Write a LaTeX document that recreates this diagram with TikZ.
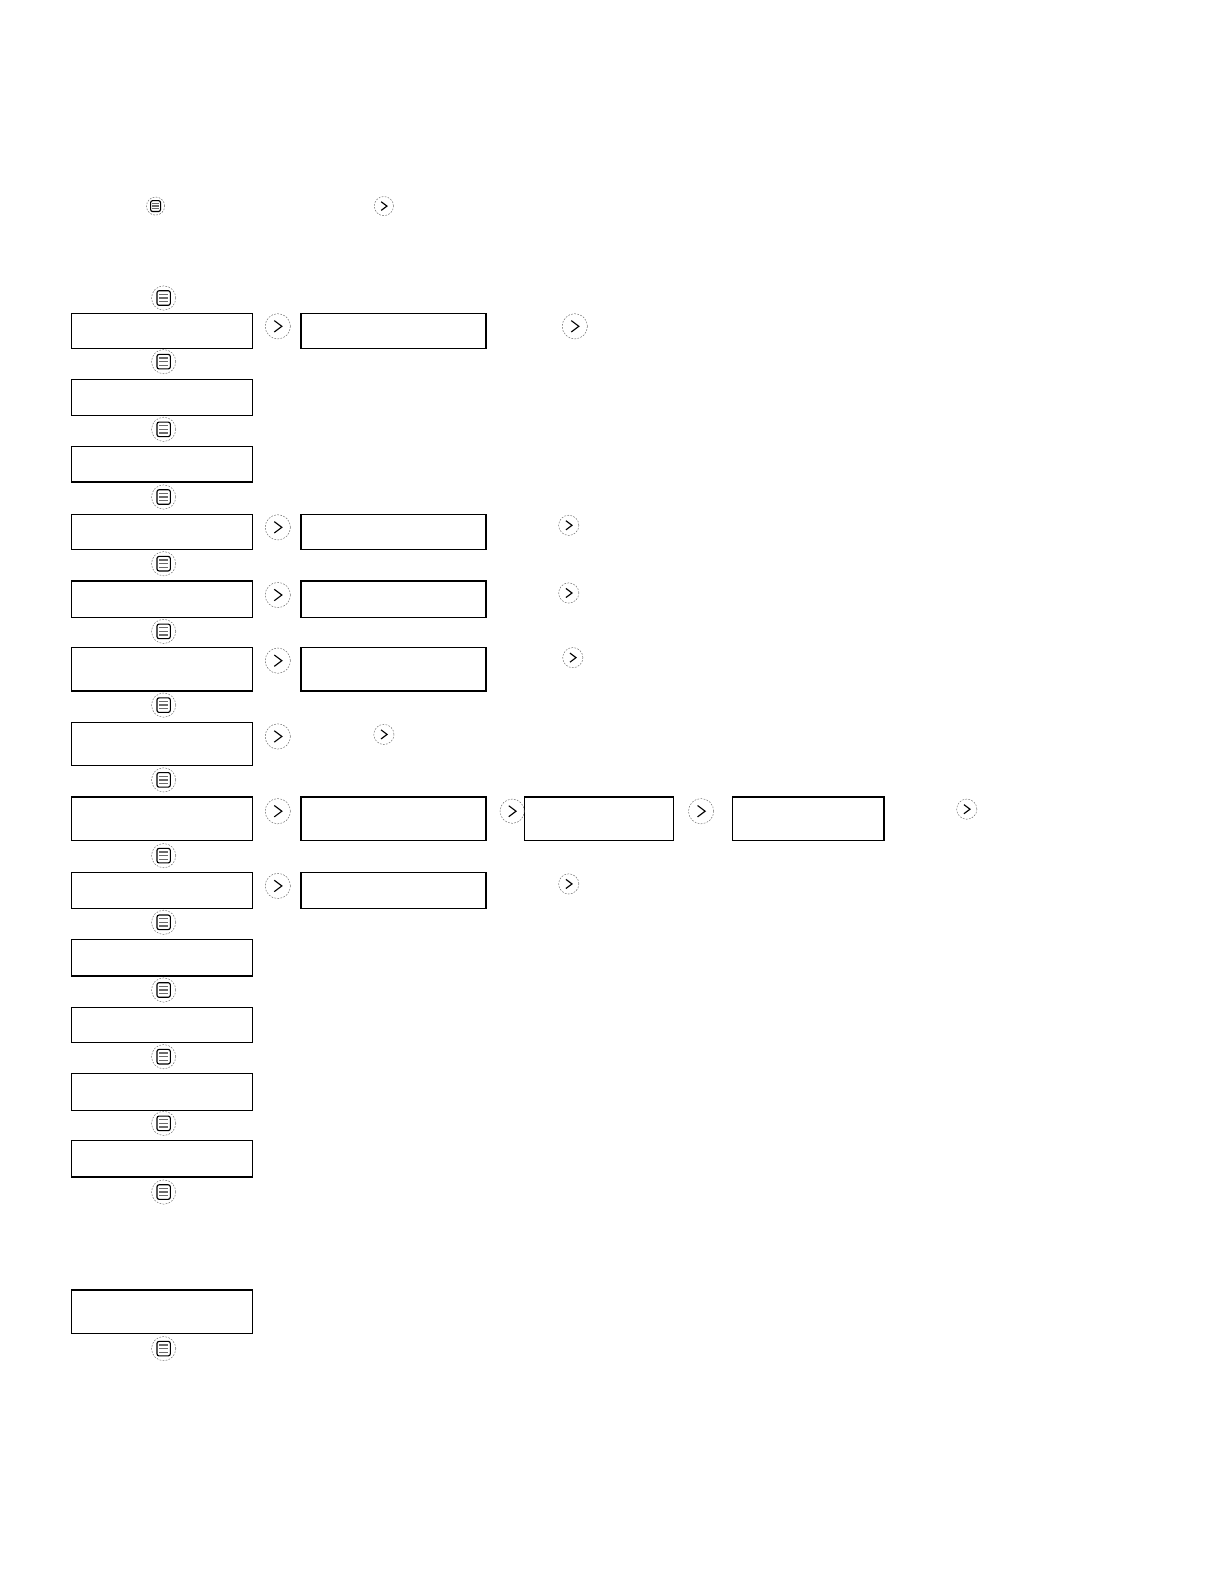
\documentclass[tikz,border=0pt]{standalone}
\usetikzlibrary{positioning, fit}
\definecolor{cgrey}{HTML}{6B6B6B}
\tikzset{
  every picture/.style={line width=0.9pt},
  box/.style={draw=black, inner sep=0pt, line width=0.9pt},
  ring/.style={circle, draw=cgrey, dash pattern=on 1.2pt off 1pt, line width=0.35pt, inner sep=0pt},
  pics/menuicon/.style={code={
    \node[ring, minimum size=2*#1*0.025248cm] (-ring) {};
    \draw[black, line width=0.8pt, rounded corners=1.5pt] (-0.55*#1,-0.6*#1) rectangle (0.55*#1,0.6*#1);
    \foreach \k in {-0.3,0,0.3}
      \draw[cgrey, line width=0.9pt] (-0.36*#1,\k*#1) -- (0.36*#1,\k*#1);
  }},
  pics/nexticon/.style={code={
    \node[ring, minimum size=2*#1*0.025248cm] (-ring) {};
    \draw[black, line width=0.8pt] (-0.28*#1,-0.45*#1) -- (0.32*#1,0) -- (-0.28*#1,0.45*#1);
  }},
}
\begin{document}
\begin{tikzpicture}[x=0.025248cm, y=-0.025248cm]
  \useasboundingbox (0,0) rectangle (1212,1568);
  % legend icons
  \pic (menukey) at (154,204) {menuicon=9};
  \pic (nextkey) at (380,204) {nexticon=9.5};
  % main menu column
  \foreach \t/\b [count=\i] in {310/345, 376/411, 442/477, 509/544, 575/611, 641/684, 715/758,
                                789/832, 864/899, 930/966, 997/1032, 1063/1099, 1129/1165, 1277/1320}
    \node[box, fit={(71,\t)(250,\b)}] (item\i) {};
  \foreach \y [count=\i] in {295, 358, 425, 492, 558, 625, 698, 772, 847, 913, 980, 1046, 1112, 1180, 1335}
    \pic (menu\i) at (162,\y) {menuicon=12};
  % sub menus
  \foreach \t/\b/\n in {310/345/1, 509/544/4, 575/611/5, 641/684/6, 789/832/8, 864/899/9}
    \node[box, fit={(298,\t)(481,\b)}] (sub\n) {};
  \node[box, fit={(519,789)(667,832)}] (subsub8) {};
  \node[box, fit={(725,789)(875,832)}] (subsubsub8) {};
  \foreach \y/\n in {323/1, 522/4, 589/5, 654/6, 729/7, 803/8, 877/9}
    \pic (go\n) at (275,\y) {nexticon=12.5};
  \pic (gosub1) at (569,323) {nexticon=12.5};
  \pic (gosub8) at (507,803) {nexticon=12};
  \pic (gosubsub8) at (694,803) {nexticon=12.5};
  \foreach \x/\y/\n in {563/520/4, 563/587/5, 567/651/6, 380/727/7, 563/875/9}
    \pic (end\n) at (\x,\y) {nexticon=10};
  \pic (end8) at (957,801) {nexticon=10};
\end{tikzpicture}
\end{document}
